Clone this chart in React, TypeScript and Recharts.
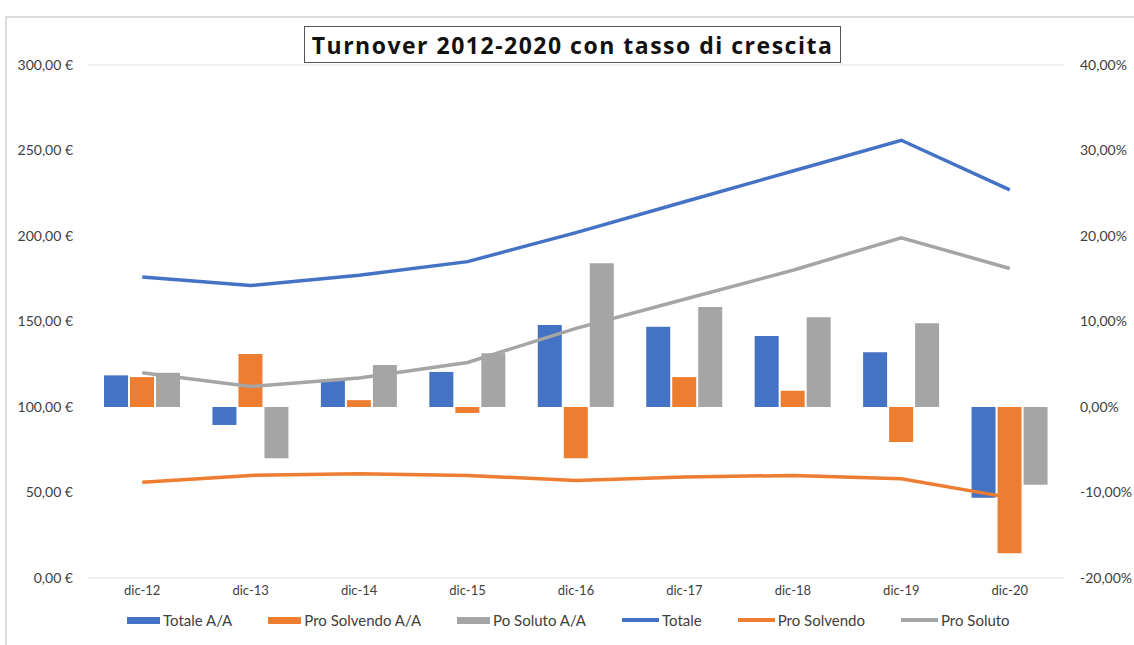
import { ComposedChart, Bar, Line, XAxis, YAxis, CartesianGrid } from 'recharts';

const categories = ['dic-12', 'dic-13', 'dic-14', 'dic-15', 'dic-16', 'dic-17', 'dic-18', 'dic-19', 'dic-20'];

// growth rates (%), right axis
const totaleAA = [3.7, -2.1, 3.2, 4.1, 9.6, 9.4, 8.3, 6.4, -10.6];
const proSolvendoAA = [3.5, 6.2, 0.8, -0.7, -6.0, 3.5, 1.9, -4.1, -17.1];
const poSolutoAA = [4.0, -6.0, 4.9, 6.3, 16.8, 11.7, 10.5, 9.8, -9.1];

// turnover (€), left axis
const totale = [176, 171, 177, 185, 202, 220, 238, 256, 227];
const proSolvendo = [56, 60, 61, 60, 57, 59, 60, 58, 47];
const proSoluto = [120, 112, 117, 126, 146, 163, 180, 199, 181];

const leftTicks = [0, 50, 100, 150, 200, 250, 300];
const rightTicks = [-20, -10, 0, 10, 20, 30, 40];

const BLUE = '#4472C4';
const ORANGE = '#ED7D31';
const GRAY = '#A5A5A5';
const TEXT = '#404040';
const FONT = 'Lato, "Open Sans", sans-serif';

const data = categories.map((c, i) => ({
  cat: c,
  totaleAA: totaleAA[i],
  proSolvendoAA: proSolvendoAA[i],
  poSolutoAA: poSolutoAA[i],
  totale: totale[i],
  proSolvendo: proSolvendo[i],
  proSoluto: proSoluto[i],
}));

const legendItems = [
  { label: 'Totale A/A', color: BLUE, kind: 'bar' },
  { label: 'Pro Solvendo A/A', color: ORANGE, kind: 'bar' },
  { label: 'Po Soluto A/A', color: GRAY, kind: 'bar' },
  { label: 'Totale', color: BLUE, kind: 'line' },
  { label: 'Pro Solvendo', color: ORANGE, kind: 'line' },
  { label: 'Pro Soluto', color: GRAY, kind: 'line' },
];

const fmtEuro = (v: number) => `${v.toFixed(2).replace('.', ',')} €`;
const fmtPct = (v: number) => `${v.toFixed(2).replace('.', ',')}%`;

export default function App() {
  const tickStyle = { fill: TEXT, fontSize: 14, fontFamily: FONT };
  return (
    <div style={{ position: 'absolute', left: 0, top: 0, width: 1134, height: 645, background: '#fff', fontFamily: FONT, overflow: 'hidden' }}>
      <div style={{ position: 'absolute', left: 5, top: 16, width: 1140, height: 640, borderTop: '2px solid #dcdcdc', borderLeft: '2px solid #dcdcdc' }} />
      <div style={{ position: 'absolute', left: 0, top: 0 }}>
        <ComposedChart
          width={1134}
          height={645}
          data={data}
          margin={{ top: 65, right: 0, bottom: 42, left: 0 }}
          barCategoryGap={16}
          barGap={2}
        >
          <CartesianGrid vertical={false} stroke="#e2e2e2" />
          <XAxis dataKey="cat" axisLine={false} tickLine={false} tick={{ ...tickStyle, fontSize: 13 }} height={25} interval={0} />
          <YAxis
            yAxisId="left"
            orientation="left"
            width={88}
            domain={[0, 300]}
            ticks={leftTicks}
            tickFormatter={fmtEuro}
            axisLine={false}
            tickLine={false}
            tickSize={0}
            tickMargin={15}
            tick={tickStyle}
          />
          <YAxis
            yAxisId="right"
            orientation="right"
            width={70}
            domain={[-20, 40]}
            ticks={rightTicks}
            tickFormatter={fmtPct}
            axisLine={false}
            tickLine={false}
            tickSize={0}
            tickMargin={16}
            tick={tickStyle}
          />
          <Bar yAxisId="right" dataKey="totaleAA" fill={BLUE} isAnimationActive={false} />
          <Bar yAxisId="right" dataKey="proSolvendoAA" fill={ORANGE} isAnimationActive={false} />
          <Bar yAxisId="right" dataKey="poSolutoAA" fill={GRAY} isAnimationActive={false} />
          <Line yAxisId="left" type="linear" dataKey="totale" stroke={BLUE} strokeWidth={3.5} dot={false} isAnimationActive={false} />
          <Line yAxisId="left" type="linear" dataKey="proSolvendo" stroke={ORANGE} strokeWidth={3.5} dot={false} isAnimationActive={false} />
          <Line yAxisId="left" type="linear" dataKey="proSoluto" stroke={GRAY} strokeWidth={3.5} dot={false} isAnimationActive={false} />
        </ComposedChart>
      </div>
      <div
        style={{
          position: 'absolute', left: 304, top: 26, width: 537, height: 37, boxSizing: 'border-box',
          border: '1.5px solid #555', background: '#fff', display: 'flex', alignItems: 'center', justifyContent: 'center',
          fontFamily: '"Open Sans", Lato, sans-serif', fontSize: 23, fontWeight: 700, letterSpacing: 1.5,
          color: '#111', whiteSpace: 'nowrap',
        }}
      >
        Turnover 2012-2020 con tasso di crescita
      </div>
      <div style={{ position: 'absolute', left: 127, top: 609, height: 22, display: 'flex', alignItems: 'center', gap: 36 }}>
        {legendItems.map((it) => (
          <div key={it.label} style={{ display: 'flex', alignItems: 'center', fontSize: 15, color: TEXT, whiteSpace: 'nowrap' }}>
            <span
              style={{
                display: 'inline-block',
                width: it.kind === 'bar' ? 33 : 37,
                height: it.kind === 'bar' ? 7 : 4,
                background: it.color,
                marginRight: 3,
              }}
            />
            {it.label}
          </div>
        ))}
      </div>
    </div>
  );
}
